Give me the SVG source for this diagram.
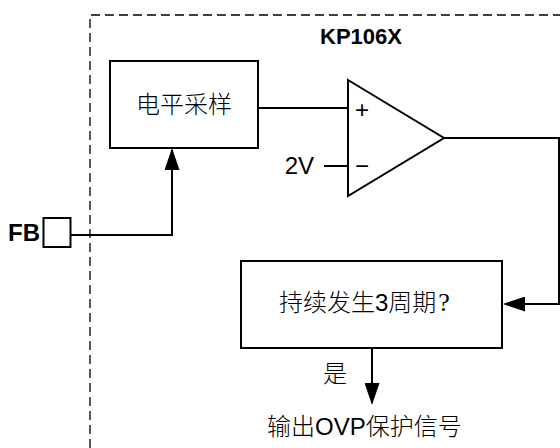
<svg xmlns="http://www.w3.org/2000/svg" width="560" height="448" viewBox="0 0 560 448">
<style>
.box{fill:#fff;stroke:#000;stroke-width:2}
.wire{fill:none;stroke:#000;stroke-width:2}
.border{fill:none;stroke:#000;stroke-width:1.3;stroke-dasharray:9 5}
.cjk{font-family:"Noto Sans CJK SC","Liberation Sans",sans-serif;font-size:24px;font-weight:300;fill:#000}
.lat{font-family:"Liberation Sans",Arial,sans-serif;fill:#000}
.q{font-family:"Liberation Serif",serif;font-size:26px;font-weight:normal}
.s{font-family:"Liberation Sans",sans-serif;font-weight:normal}
</style>
<defs>
<marker id="arr" markerUnits="userSpaceOnUse" markerWidth="22" markerHeight="15" refX="20" refY="7.5" orient="auto" viewBox="0 0 22 15">
<path d="M0,0 L22,7.5 L0,15 Z" fill="#000"/>
</marker>
</defs>
<rect width="560" height="448" fill="#fff"/>
<g id="chip-border">
<path class="border" d="M90,448 V15 H560"/>
<text class="lat" x="320" y="44" font-size="22" font-weight="bold">KP106X</text>
</g>
<g id="connectors">
<path class="wire" d="M70,235 H172 V150" marker-end="url(#arr)"/>
<path class="wire" d="M258,108 H348"/>
<path class="wire" d="M324,166 H348"/>
<path class="wire" d="M444,138 H559 V304 H505" marker-end="url(#arr)"/>
<path class="wire" d="M372,348 V403" marker-end="url(#arr)"/>
</g>
<g id="fb-pin">
<rect class="box" x="43.5" y="218" width="27" height="29"/>
<text class="lat" x="40" y="241" font-size="24" font-weight="bold" text-anchor="end">FB</text>
</g>
<g id="level-sample">
<rect class="box" x="110" y="61" width="148" height="87"/>
<text class="cjk" x="184" y="113" text-anchor="middle">电平采样</text>
</g>
<g id="comparator">
<path class="box" d="M348,80 L444,138 L348,196 Z"/>
<text class="lat" x="362" y="117.5" font-size="24" text-anchor="middle">+</text>
<text class="lat" x="362" y="174" font-size="24" text-anchor="middle">−</text>
</g>
<g id="ref-2v">
<text class="lat" x="314" y="174" font-size="24" text-anchor="end">2V</text>
</g>
<g id="cycle-check">
<rect class="box" x="241" y="261" width="261" height="87"/>
<text class="cjk" x="279" y="311">持续发生<tspan class="s">3</tspan>周期<tspan class="q" dx="2">?</tspan></text>
</g>
<g id="yes-label">
<text class="cjk" x="323" y="382">是</text>
</g>
<g id="ovp-output">
<text class="cjk" x="267" y="435">输出<tspan class="s">OVP</tspan>保护信号</text>
</g>
</svg>
